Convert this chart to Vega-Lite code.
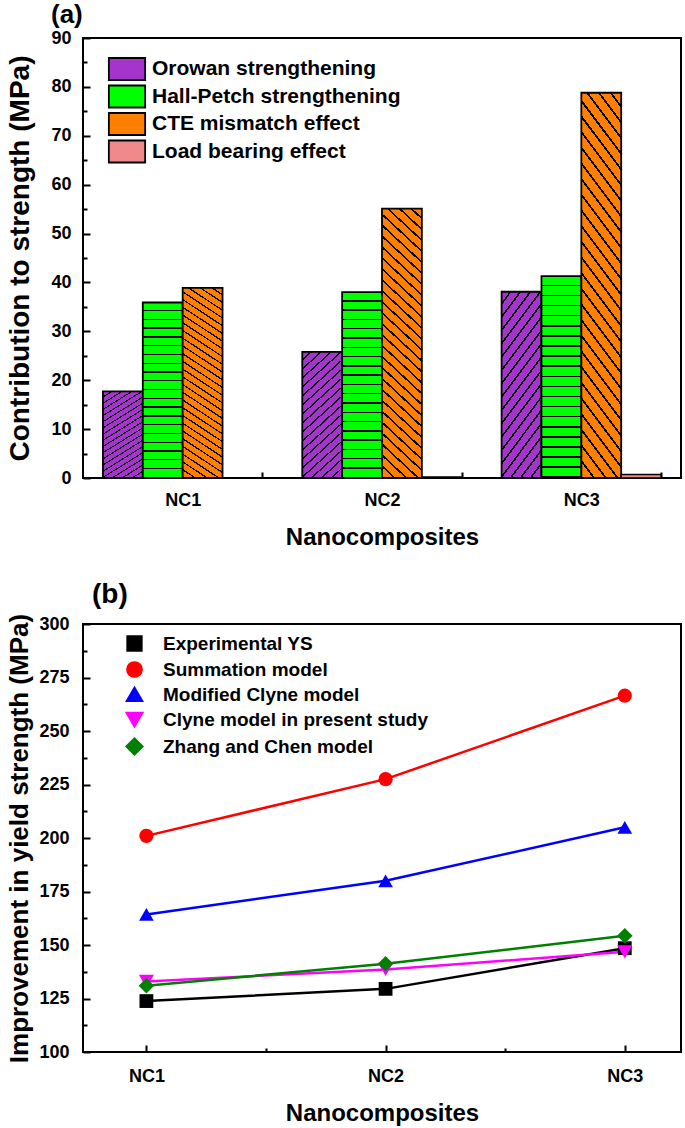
{
  "$schema": "https://vega.github.io/schema/vega-lite/v6.json",
  "background": "white",
  "padding": {"left": 5, "top": 1, "right": 3, "bottom": 1},
  "spacing": 30,
  "resolve": {
    "scale": {"color": "independent", "shape": "independent", "size": "independent", "x": "independent", "y": "independent"},
    "legend": {"color": "independent"}
  },
  "config": {
    "font": "Liberation Sans",
    "view": {"stroke": "black", "strokeWidth": 2},
    "axis": {
      "domain": false, "tickColor": "black", "tickWidth": 2,
      "labelFont": "Liberation Sans", "labelFontSize": 18, "labelFontWeight": "bold", "labelColor": "black",
      "titleFont": "Liberation Sans", "titleFontSize": 24, "titleFontWeight": "bold", "titleColor": "black",
      "grid": false
    },
    "title": {"font": "Liberation Sans", "fontSize": 28, "fontWeight": "bold", "color": "black", "anchor": "start"}
  },
  "vconcat": [
    {
      "width": 598,
      "height": 440,
      "title": {"text": "(a)", "dx": -32, "offset": 1, "fontSize": 26, "frame": "group"},
      "data": {
        "values": [
          {"sample": "NC1", "mechanism": "Orowan strengthening", "value": 17.7},
          {"sample": "NC1", "mechanism": "Hall-Petch strengthening", "value": 35.9},
          {"sample": "NC1", "mechanism": "CTE mismatch effect", "value": 38.9},
          {"sample": "NC1", "mechanism": "Load bearing effect", "value": 0.05},
          {"sample": "NC2", "mechanism": "Orowan strengthening", "value": 25.8},
          {"sample": "NC2", "mechanism": "Hall-Petch strengthening", "value": 38.0},
          {"sample": "NC2", "mechanism": "CTE mismatch effect", "value": 55.1},
          {"sample": "NC2", "mechanism": "Load bearing effect", "value": 0.2},
          {"sample": "NC3", "mechanism": "Orowan strengthening", "value": 38.1},
          {"sample": "NC3", "mechanism": "Hall-Petch strengthening", "value": 41.3},
          {"sample": "NC3", "mechanism": "CTE mismatch effect", "value": 78.8},
          {"sample": "NC3", "mechanism": "Load bearing effect", "value": 0.7}
        ]
      },
      "layer": [
        {
          "transform": [{"filter": "datum.mechanism === 'Orowan strengthening'"}],
          "mark": {"type": "bar", "stroke": "black", "strokeWidth": 1.8,
            "fill": {"gradient": "linear", "x1": 0, "y1": 0, "x2": 0.34, "y2": 1.189, "stops": [
              {"offset": 0, "color": "#A534CC"}, {"offset": 0.0445, "color": "#A534CC"}, {"offset": 0.0445, "color": "#000000"}, {"offset": 0.0556, "color": "#000000"},
              {"offset": 0.0556, "color": "#A534CC"}, {"offset": 0.1, "color": "#A534CC"}, {"offset": 0.1, "color": "#000000"}, {"offset": 0.1111, "color": "#000000"},
              {"offset": 0.1111, "color": "#A534CC"}, {"offset": 0.1556, "color": "#A534CC"}, {"offset": 0.1556, "color": "#000000"}, {"offset": 0.1667, "color": "#000000"},
              {"offset": 0.1667, "color": "#A534CC"}, {"offset": 0.2111, "color": "#A534CC"}, {"offset": 0.2111, "color": "#000000"}, {"offset": 0.2222, "color": "#000000"},
              {"offset": 0.2222, "color": "#A534CC"}, {"offset": 0.2667, "color": "#A534CC"}, {"offset": 0.2667, "color": "#000000"}, {"offset": 0.2778, "color": "#000000"},
              {"offset": 0.2778, "color": "#A534CC"}, {"offset": 0.3222, "color": "#A534CC"}, {"offset": 0.3222, "color": "#000000"}, {"offset": 0.3333, "color": "#000000"},
              {"offset": 0.3333, "color": "#A534CC"}, {"offset": 0.3778, "color": "#A534CC"}, {"offset": 0.3778, "color": "#000000"}, {"offset": 0.3889, "color": "#000000"},
              {"offset": 0.3889, "color": "#A534CC"}, {"offset": 0.4333, "color": "#A534CC"}, {"offset": 0.4333, "color": "#000000"}, {"offset": 0.4444, "color": "#000000"},
              {"offset": 0.4444, "color": "#A534CC"}, {"offset": 0.4889, "color": "#A534CC"}, {"offset": 0.4889, "color": "#000000"}, {"offset": 0.5, "color": "#000000"},
              {"offset": 0.5, "color": "#A534CC"}, {"offset": 0.5445, "color": "#A534CC"}, {"offset": 0.5445, "color": "#000000"}, {"offset": 0.5556, "color": "#000000"},
              {"offset": 0.5556, "color": "#A534CC"}, {"offset": 0.6, "color": "#A534CC"}, {"offset": 0.6, "color": "#000000"}, {"offset": 0.6111, "color": "#000000"},
              {"offset": 0.6111, "color": "#A534CC"}, {"offset": 0.6556, "color": "#A534CC"}, {"offset": 0.6556, "color": "#000000"}, {"offset": 0.6667, "color": "#000000"},
              {"offset": 0.6667, "color": "#A534CC"}, {"offset": 0.7111, "color": "#A534CC"}, {"offset": 0.7111, "color": "#000000"}, {"offset": 0.7222, "color": "#000000"},
              {"offset": 0.7222, "color": "#A534CC"}, {"offset": 0.7667, "color": "#A534CC"}, {"offset": 0.7667, "color": "#000000"}, {"offset": 0.7778, "color": "#000000"},
              {"offset": 0.7778, "color": "#A534CC"}, {"offset": 0.8222, "color": "#A534CC"}, {"offset": 0.8222, "color": "#000000"}, {"offset": 0.8333, "color": "#000000"},
              {"offset": 0.8333, "color": "#A534CC"}, {"offset": 0.8778, "color": "#A534CC"}, {"offset": 0.8778, "color": "#000000"}, {"offset": 0.8889, "color": "#000000"},
              {"offset": 0.8889, "color": "#A534CC"}, {"offset": 0.9333, "color": "#A534CC"}, {"offset": 0.9333, "color": "#000000"}, {"offset": 0.9444, "color": "#000000"},
              {"offset": 0.9444, "color": "#A534CC"}, {"offset": 0.9889, "color": "#A534CC"}, {"offset": 0.9889, "color": "#000000"}, {"offset": 1, "color": "#000000"}
            ]}
          },
          "encoding": {
            "x": {
              "field": "sample", "type": "nominal", "title": "Nanocomposites",
              "scale": {"paddingInner": 0.2, "paddingOuter": 0.1},
              "axis": {"labelAngle": 0, "tickBand": "extent", "offset": -6, "tickSize": 6, "labelPadding": 13, "titlePadding": 16}
            },
            "xOffset": {
              "field": "mechanism", "type": "nominal",
              "scale": {"domain": ["Orowan strengthening", "Hall-Petch strengthening", "CTE mismatch effect", "Load bearing effect"], "paddingInner": 0, "paddingOuter": 0}
            },
            "y": {
              "field": "value", "type": "quantitative", "title": "Contribution to strength (MPa)",
              "scale": {"domain": [0, 90], "nice": false},
              "axis": {"values": [0, 10, 20, 30, 40, 50, 60, 70, 80, 90], "offset": -7, "tickSize": 7, "labelPadding": 12, "titlePadding": 16, "titleFontSize": 28}
            }
          }
        },
        {
          "transform": [{"filter": "datum.mechanism === 'Hall-Petch strengthening'"}],
          "mark": {"type": "bar", "stroke": "black", "strokeWidth": 1.8,
            "fill": {"gradient": "linear", "x1": 0, "y1": 0, "x2": 0, "y2": 1, "stops": [
              {"offset": 0, "color": "#00FF00"}, {"offset": 0.0425, "color": "#00FF00"}, {"offset": 0.0425, "color": "#000000"}, {"offset": 0.05, "color": "#000000"},
              {"offset": 0.05, "color": "#00FF00"}, {"offset": 0.0925, "color": "#00FF00"}, {"offset": 0.0925, "color": "#000000"}, {"offset": 0.1, "color": "#000000"},
              {"offset": 0.1, "color": "#00FF00"}, {"offset": 0.1425, "color": "#00FF00"}, {"offset": 0.1425, "color": "#000000"}, {"offset": 0.15, "color": "#000000"},
              {"offset": 0.15, "color": "#00FF00"}, {"offset": 0.1925, "color": "#00FF00"}, {"offset": 0.1925, "color": "#000000"}, {"offset": 0.2, "color": "#000000"},
              {"offset": 0.2, "color": "#00FF00"}, {"offset": 0.2425, "color": "#00FF00"}, {"offset": 0.2425, "color": "#000000"}, {"offset": 0.25, "color": "#000000"},
              {"offset": 0.25, "color": "#00FF00"}, {"offset": 0.2925, "color": "#00FF00"}, {"offset": 0.2925, "color": "#000000"}, {"offset": 0.3, "color": "#000000"},
              {"offset": 0.3, "color": "#00FF00"}, {"offset": 0.3425, "color": "#00FF00"}, {"offset": 0.3425, "color": "#000000"}, {"offset": 0.35, "color": "#000000"},
              {"offset": 0.35, "color": "#00FF00"}, {"offset": 0.3925, "color": "#00FF00"}, {"offset": 0.3925, "color": "#000000"}, {"offset": 0.4, "color": "#000000"},
              {"offset": 0.4, "color": "#00FF00"}, {"offset": 0.4425, "color": "#00FF00"}, {"offset": 0.4425, "color": "#000000"}, {"offset": 0.45, "color": "#000000"},
              {"offset": 0.45, "color": "#00FF00"}, {"offset": 0.4925, "color": "#00FF00"}, {"offset": 0.4925, "color": "#000000"}, {"offset": 0.5, "color": "#000000"},
              {"offset": 0.5, "color": "#00FF00"}, {"offset": 0.5425, "color": "#00FF00"}, {"offset": 0.5425, "color": "#000000"}, {"offset": 0.55, "color": "#000000"},
              {"offset": 0.55, "color": "#00FF00"}, {"offset": 0.5925, "color": "#00FF00"}, {"offset": 0.5925, "color": "#000000"}, {"offset": 0.6, "color": "#000000"},
              {"offset": 0.6, "color": "#00FF00"}, {"offset": 0.6425, "color": "#00FF00"}, {"offset": 0.6425, "color": "#000000"}, {"offset": 0.65, "color": "#000000"},
              {"offset": 0.65, "color": "#00FF00"}, {"offset": 0.6925, "color": "#00FF00"}, {"offset": 0.6925, "color": "#000000"}, {"offset": 0.7, "color": "#000000"},
              {"offset": 0.7, "color": "#00FF00"}, {"offset": 0.7425, "color": "#00FF00"}, {"offset": 0.7425, "color": "#000000"}, {"offset": 0.75, "color": "#000000"},
              {"offset": 0.75, "color": "#00FF00"}, {"offset": 0.7925, "color": "#00FF00"}, {"offset": 0.7925, "color": "#000000"}, {"offset": 0.8, "color": "#000000"},
              {"offset": 0.8, "color": "#00FF00"}, {"offset": 0.8425, "color": "#00FF00"}, {"offset": 0.8425, "color": "#000000"}, {"offset": 0.85, "color": "#000000"},
              {"offset": 0.85, "color": "#00FF00"}, {"offset": 0.8925, "color": "#00FF00"}, {"offset": 0.8925, "color": "#000000"}, {"offset": 0.9, "color": "#000000"},
              {"offset": 0.9, "color": "#00FF00"}, {"offset": 0.9425, "color": "#00FF00"}, {"offset": 0.9425, "color": "#000000"}, {"offset": 0.95, "color": "#000000"},
              {"offset": 0.95, "color": "#00FF00"}, {"offset": 0.9925, "color": "#00FF00"}, {"offset": 0.9925, "color": "#000000"}, {"offset": 1, "color": "#000000"}
            ]}
          },
          "encoding": {
            "x": {"field": "sample", "type": "nominal", "title": "Nanocomposites"},
            "xOffset": {"field": "mechanism", "type": "nominal"},
            "y": {"field": "value", "type": "quantitative", "axis": null}
          }
        },
        {
          "transform": [{"filter": "datum.mechanism === 'CTE mismatch effect'"}],
          "mark": {"type": "bar", "stroke": "black", "strokeWidth": 1.8,
            "fill": {"gradient": "linear", "x1": 1, "y1": 0, "x2": 0.846, "y2": 1.117, "stops": [
              {"offset": 0, "color": "#FF8000"}, {"offset": 0.0286, "color": "#FF8000"}, {"offset": 0.0286, "color": "#000000"}, {"offset": 0.0357, "color": "#000000"},
              {"offset": 0.0357, "color": "#FF8000"}, {"offset": 0.0643, "color": "#FF8000"}, {"offset": 0.0643, "color": "#000000"}, {"offset": 0.0714, "color": "#000000"},
              {"offset": 0.0714, "color": "#FF8000"}, {"offset": 0.1, "color": "#FF8000"}, {"offset": 0.1, "color": "#000000"}, {"offset": 0.1071, "color": "#000000"},
              {"offset": 0.1071, "color": "#FF8000"}, {"offset": 0.1358, "color": "#FF8000"}, {"offset": 0.1358, "color": "#000000"}, {"offset": 0.1429, "color": "#000000"},
              {"offset": 0.1429, "color": "#FF8000"}, {"offset": 0.1715, "color": "#FF8000"}, {"offset": 0.1715, "color": "#000000"}, {"offset": 0.1786, "color": "#000000"},
              {"offset": 0.1786, "color": "#FF8000"}, {"offset": 0.2072, "color": "#FF8000"}, {"offset": 0.2072, "color": "#000000"}, {"offset": 0.2143, "color": "#000000"},
              {"offset": 0.2143, "color": "#FF8000"}, {"offset": 0.2429, "color": "#FF8000"}, {"offset": 0.2429, "color": "#000000"}, {"offset": 0.25, "color": "#000000"},
              {"offset": 0.25, "color": "#FF8000"}, {"offset": 0.2786, "color": "#FF8000"}, {"offset": 0.2786, "color": "#000000"}, {"offset": 0.2857, "color": "#000000"},
              {"offset": 0.2857, "color": "#FF8000"}, {"offset": 0.3143, "color": "#FF8000"}, {"offset": 0.3143, "color": "#000000"}, {"offset": 0.3214, "color": "#000000"},
              {"offset": 0.3214, "color": "#FF8000"}, {"offset": 0.35, "color": "#FF8000"}, {"offset": 0.35, "color": "#000000"}, {"offset": 0.3571, "color": "#000000"},
              {"offset": 0.3571, "color": "#FF8000"}, {"offset": 0.3858, "color": "#FF8000"}, {"offset": 0.3858, "color": "#000000"}, {"offset": 0.3929, "color": "#000000"},
              {"offset": 0.3929, "color": "#FF8000"}, {"offset": 0.4215, "color": "#FF8000"}, {"offset": 0.4215, "color": "#000000"}, {"offset": 0.4286, "color": "#000000"},
              {"offset": 0.4286, "color": "#FF8000"}, {"offset": 0.4572, "color": "#FF8000"}, {"offset": 0.4572, "color": "#000000"}, {"offset": 0.4643, "color": "#000000"},
              {"offset": 0.4643, "color": "#FF8000"}, {"offset": 0.4929, "color": "#FF8000"}, {"offset": 0.4929, "color": "#000000"}, {"offset": 0.5, "color": "#000000"},
              {"offset": 0.5, "color": "#FF8000"}, {"offset": 0.5286, "color": "#FF8000"}, {"offset": 0.5286, "color": "#000000"}, {"offset": 0.5357, "color": "#000000"},
              {"offset": 0.5357, "color": "#FF8000"}, {"offset": 0.5643, "color": "#FF8000"}, {"offset": 0.5643, "color": "#000000"}, {"offset": 0.5714, "color": "#000000"},
              {"offset": 0.5714, "color": "#FF8000"}, {"offset": 0.6, "color": "#FF8000"}, {"offset": 0.6, "color": "#000000"}, {"offset": 0.6071, "color": "#000000"},
              {"offset": 0.6071, "color": "#FF8000"}, {"offset": 0.6358, "color": "#FF8000"}, {"offset": 0.6358, "color": "#000000"}, {"offset": 0.6429, "color": "#000000"},
              {"offset": 0.6429, "color": "#FF8000"}, {"offset": 0.6715, "color": "#FF8000"}, {"offset": 0.6715, "color": "#000000"}, {"offset": 0.6786, "color": "#000000"},
              {"offset": 0.6786, "color": "#FF8000"}, {"offset": 0.7072, "color": "#FF8000"}, {"offset": 0.7072, "color": "#000000"}, {"offset": 0.7143, "color": "#000000"},
              {"offset": 0.7143, "color": "#FF8000"}, {"offset": 0.7429, "color": "#FF8000"}, {"offset": 0.7429, "color": "#000000"}, {"offset": 0.75, "color": "#000000"},
              {"offset": 0.75, "color": "#FF8000"}, {"offset": 0.7786, "color": "#FF8000"}, {"offset": 0.7786, "color": "#000000"}, {"offset": 0.7857, "color": "#000000"},
              {"offset": 0.7857, "color": "#FF8000"}, {"offset": 0.8143, "color": "#FF8000"}, {"offset": 0.8143, "color": "#000000"}, {"offset": 0.8214, "color": "#000000"},
              {"offset": 0.8214, "color": "#FF8000"}, {"offset": 0.85, "color": "#FF8000"}, {"offset": 0.85, "color": "#000000"}, {"offset": 0.8571, "color": "#000000"},
              {"offset": 0.8571, "color": "#FF8000"}, {"offset": 0.8858, "color": "#FF8000"}, {"offset": 0.8858, "color": "#000000"}, {"offset": 0.8929, "color": "#000000"},
              {"offset": 0.8929, "color": "#FF8000"}, {"offset": 0.9215, "color": "#FF8000"}, {"offset": 0.9215, "color": "#000000"}, {"offset": 0.9286, "color": "#000000"},
              {"offset": 0.9286, "color": "#FF8000"}, {"offset": 0.9572, "color": "#FF8000"}, {"offset": 0.9572, "color": "#000000"}, {"offset": 0.9643, "color": "#000000"},
              {"offset": 0.9643, "color": "#FF8000"}, {"offset": 0.9929, "color": "#FF8000"}, {"offset": 0.9929, "color": "#000000"}, {"offset": 1, "color": "#000000"}
            ]}
          },
          "encoding": {
            "x": {"field": "sample", "type": "nominal", "title": "Nanocomposites"},
            "xOffset": {"field": "mechanism", "type": "nominal"},
            "y": {"field": "value", "type": "quantitative", "axis": null}
          }
        },
        {
          "transform": [{"filter": "datum.mechanism === 'Load bearing effect'"}],
          "mark": {"type": "bar", "stroke": "black", "strokeWidth": 1.5, "fill": "#F08A8A"},
          "encoding": {
            "x": {"field": "sample", "type": "nominal", "title": "Nanocomposites"},
            "xOffset": {"field": "mechanism", "type": "nominal"},
            "y": {"field": "value", "type": "quantitative", "axis": null}
          }
        },
        {
          "mark": {"type": "point", "filled": true, "opacity": 0},
          "encoding": {
            "x": {"field": "sample", "type": "nominal", "title": "Nanocomposites"},
            "y": {
              "field": "value", "type": "quantitative",
              "axis": {"orient": "left", "values": [5, 15, 25, 35, 45, 55, 65, 75, 85], "labels": false, "title": null, "offset": -4, "tickSize": 4}
            },
            "color": {
              "field": "mechanism", "type": "nominal",
              "scale": {
                "domain": ["Orowan strengthening", "Hall-Petch strengthening", "CTE mismatch effect", "Load bearing effect"],
                "range": ["#A534CC", "#00FF00", "#FF8000", "#F08A8A"]
              },
              "legend": {
                "orient": "none", "legendX": 32, "legendY": 19, "title": null,
                "symbolType": "M-1.65,-1H1.65V1H-1.65Z", "symbolSize": 484,
                "symbolStrokeColor": "black", "symbolStrokeWidth": 1.8, "symbolOpacity": 1,
                "labelFont": "Liberation Sans", "labelFontSize": 21, "labelFontWeight": "bold", "labelColor": "black",
                "labelOffset": 13, "rowPadding": -2.5, "labelLimit": 400, "padding": 0
              }
            }
          }
        }
      ],
      "resolve": {"axis": {"y": "independent"}}
    },
    {
      "width": 598,
      "height": 428,
      "title": {"text": "(b)", "dx": 9, "offset": 4, "frame": "group"},
      "data": {
        "values": [
          {"sample": "NC1", "model": "Experimental YS", "ys": 123.8},
          {"sample": "NC2", "model": "Experimental YS", "ys": 129.5},
          {"sample": "NC3", "model": "Experimental YS", "ys": 148.5},
          {"sample": "NC1", "model": "Summation model", "ys": 201.0},
          {"sample": "NC2", "model": "Summation model", "ys": 227.5},
          {"sample": "NC3", "model": "Summation model", "ys": 266.5},
          {"sample": "NC1", "model": "Modified Clyne model", "ys": 164.3},
          {"sample": "NC2", "model": "Modified Clyne model", "ys": 180.0},
          {"sample": "NC3", "model": "Modified Clyne model", "ys": 205.0},
          {"sample": "NC1", "model": "Clyne model in present study", "ys": 133.0},
          {"sample": "NC2", "model": "Clyne model in present study", "ys": 138.6},
          {"sample": "NC3", "model": "Clyne model in present study", "ys": 146.8},
          {"sample": "NC1", "model": "Zhang and Chen model", "ys": 131.0},
          {"sample": "NC2", "model": "Zhang and Chen model", "ys": 141.2},
          {"sample": "NC3", "model": "Zhang and Chen model", "ys": 154.3}
        ]
      },
      "layer": [
        {
          "mark": {"type": "line", "strokeWidth": 2.5},
          "encoding": {
            "x": {
              "field": "sample", "type": "nominal", "title": "Nanocomposites",
              "scale": {"type": "point", "padding": 0.25, "align": 0.53},
              "axis": {"labelAngle": 0, "offset": -7, "tickSize": 7, "labelPadding": 15, "titlePadding": 16}
            },
            "y": {
              "field": "ys", "type": "quantitative", "title": "Improvement in yield strength (MPa)",
              "scale": {"domain": [100, 300], "nice": false},
              "axis": {"values": [100, 125, 150, 175, 200, 225, 250, 275, 300], "offset": -7, "tickSize": 7, "labelPadding": 14, "titlePadding": 6, "titleFontSize": 26}
            },
            "color": {
              "field": "model", "type": "nominal",
              "scale": {
                "domain": ["Experimental YS", "Summation model", "Modified Clyne model", "Clyne model in present study", "Zhang and Chen model"],
                "range": ["#000000", "#FF0000", "#0000FF", "#FF00FF", "#008000"]
              },
              "legend": {
                "orient": "none", "legendX": 42, "legendY": 10, "title": null,
                "symbolSize": 196, "symbolStrokeWidth": 2.5, "symbolOpacity": 1,
                "labelFont": "Liberation Sans", "labelFontSize": 19, "labelFontWeight": "bold", "labelColor": "black",
                "labelOffset": 19, "rowPadding": 1, "labelLimit": 400, "padding": 0
              }
            }
          }
        },
        {
          "mark": {"type": "point", "filled": true, "opacity": 1},
          "encoding": {
            "x": {"field": "sample", "type": "nominal", "scale": {"type": "point", "padding": 0.25, "align": 0.53}, "axis": null},
            "y": {"field": "ys", "type": "quantitative", "axis": null},
            "color": {"field": "model", "type": "nominal", "legend": null},
            "shape": {
              "field": "model", "type": "nominal", "legend": null,
              "scale": {
                "domain": ["Experimental YS", "Summation model", "Modified Clyne model", "Clyne model in present study", "Zhang and Chen model"],
                "range": ["square", "circle", "triangle-up", "triangle-down", "diamond"]
              }
            },
            "size": {
              "field": "model", "type": "nominal", "legend": null,
              "scale": {
                "domain": ["Experimental YS", "Summation model", "Modified Clyne model", "Clyne model in present study", "Zhang and Chen model"],
                "range": [190, 240, 300, 300, 330]
              }
            }
          }
        },
        {
          "mark": {"type": "point", "opacity": 0},
          "encoding": {
            "x": {
              "field": "sample", "type": "nominal",
              "scale": {"type": "band", "range": [-56, 662], "paddingInner": 0, "paddingOuter": 0},
              "axis": {"orient": "bottom", "values": ["NC2", "NC3"], "bandPosition": 0, "labels": false, "title": null, "offset": -4, "tickSize": 4}
            },
            "y": {
              "field": "ys", "type": "quantitative",
              "axis": {"orient": "left", "values": [112.5, 137.5, 162.5, 187.5, 212.5, 237.5, 262.5, 287.5], "labels": false, "title": null, "offset": -4, "tickSize": 4}
            }
          }
        }
      ],
      "resolve": {"scale": {"x": "independent"}, "axis": {"x": "independent", "y": "independent"}}
    }
  ]
}
